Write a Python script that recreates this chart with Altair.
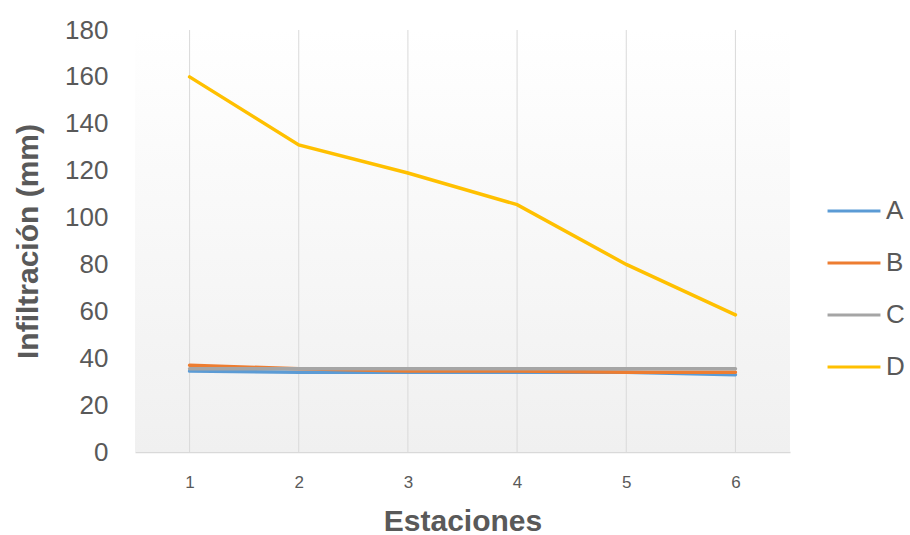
import altair as alt
import pandas as pd

estaciones = [1, 2, 3, 4, 5, 6]
serie_a = [34.5, 34, 34, 34, 34, 33]
serie_b = [37, 35.5, 34.5, 34.5, 34, 34]
serie_c = [35.5, 35.5, 35.5, 35.5, 35.5, 35.5]
serie_d = [160, 131, 119, 105.5, 80, 58.5]
series = ["A", "B", "C", "D"]
colores = ["#5B9BD5", "#ED7D31", "#A5A5A5", "#FFC000"]

rows = []
for name, vals in zip(series, [serie_a, serie_b, serie_c, serie_d]):
    for e, v in zip(estaciones, vals):
        rows.append({"Estación": e, "Serie": name, "Valor": v})
df = pd.DataFrame(rows)

W, H = 655, 422
FONT = "Liberation Sans"
GREY = "#595959"

xscale = alt.Scale(domain=[0.5, 6.5], nice=False, zero=False)
xaxis = alt.Axis(values=estaciones, format="d", title="Estaciones",
                 grid=False, ticks=False,
                 domainColor="#d9d9d9", domainWidth=1.5,
                 labelFontSize=17, labelColor=GREY, labelFont=FONT,
                 labelPadding=22, titleFontSize=30, titleFont=FONT,
                 titleColor=GREY, titleFontWeight="bold",
                 titlePadding=16)

bg = alt.Chart(pd.DataFrame({"a": [0]})).mark_rect(
    fill=alt.Gradient(
        gradient="linear",
        stops=[alt.GradientStop(color="#ffffff", offset=0),
               alt.GradientStop(color="#f0f0f0", offset=1)],
        x1=0, x2=0, y1=0, y2=1,
    )
).encode(x=alt.value(0), x2=alt.value(W), y=alt.value(0), y2=alt.value(H))

grid = alt.Chart(pd.DataFrame({"Estación": estaciones})).mark_rule(
    color="#d9d9d9", strokeWidth=1
).encode(x=alt.X("Estación:Q", scale=xscale, axis=xaxis),
         y=alt.value(0), y2=alt.value(H))

lines = alt.Chart(df).mark_line(strokeWidth=3.5, strokeCap="round").encode(
    x=alt.X("Estación:Q", scale=xscale, axis=xaxis),
    y=alt.Y("Valor:Q",
            scale=alt.Scale(domain=[0, 180], nice=False),
            axis=alt.Axis(values=list(range(0, 181, 20)), title="Infiltración (mm)",
                          grid=False, ticks=False, domain=False,
                          labelFontSize=26, labelColor=GREY, labelFont=FONT,
                          labelPadding=27, titleFontSize=30, titleFont=FONT,
                          titleColor=GREY, titleFontWeight="bold",
                          titlePadding=21)),
    color=alt.Color("Serie:N", scale=alt.Scale(domain=series, range=colores),
                    legend=alt.Legend(title=None, orient="none", legendX=W + 36,
                                      legendY=153, symbolType="stroke",
                                      symbolSize=2800, symbolStrokeWidth=3,
                                      labelFontSize=26, labelFont=FONT,
                                      labelColor=GREY, rowPadding=11,
                                      labelOffset=4)),
)

chart = alt.layer(bg, grid, lines).properties(
    width=W, height=H,
    autosize=alt.AutoSizeParams(type="none"),
    padding={"left": 135, "top": 30, "right": 120, "bottom": 83},
).configure_view(stroke=None)

chart.save("out.html", embed_options={"renderer": "svg", "actions": False})
